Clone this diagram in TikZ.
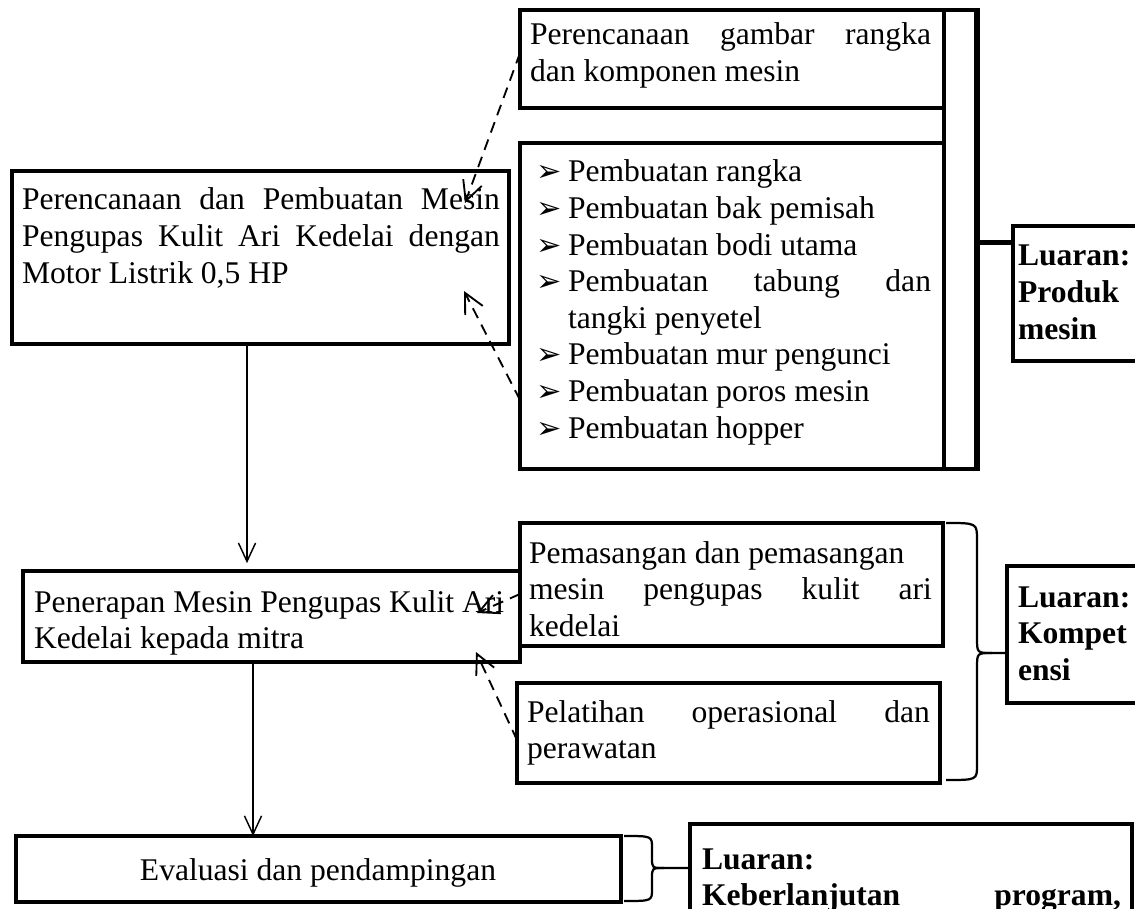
\documentclass[tikz,border=0pt]{standalone}
\usepackage{fontspec}
\setmainfont{Liberation Serif}
\newfontfamily\bulfont{DejaVu Sans}
\usetikzlibrary{arrows.meta,fit,calc}
\hbadness=10000
\newcommand\bul{{\bulfont\fontsize{11.5}{11.5}\selectfont ➢}}
\newcommand\itm[1]{\par\hangindent=12.16pt\hangafter=1\noindent\makebox[12.16pt][l]{\bul}#1}
\begin{document}
\begin{tikzpicture}[x=0.38pt,y=-0.38pt,
  box/.style={draw,line width=1.25pt,inner sep=0pt,outer sep=0pt},
  txt/.style={anchor=base west,inner sep=0pt,outer sep=0pt},
  conn/.style={line width=0.55pt,-{Straight Barb[length=7pt,width=6.5pt]}},
  dconn/.style={line width=0.7pt,dash pattern=on 4.2pt off 2.8pt,-{Straight Barb[length=7.5pt,width=7.5pt]}},
  brc/.style={line width=0.85pt},
  every node/.style={font=\fontsize{12}{13.9}\selectfont}]
\useasboundingbox (0,0) rectangle (1135,909);
\clip (0,0) rectangle (1135,909);
% boxes
\node[box,fit={(12,171)(509,344)}] (b1) {};
\node[box,fit={(23,571)(520,662)}] (b2) {};
\node[box,fit={(16,836)(621,902)}] (b3) {};
\node[box,fit={(520,10)(944,108)}] (tb) {};
\node[box,fit={(520,143)(944,469)}] (lb) {};
\node[box,fit={(520,523)(943,646)}] (b4) {};
\node[box,fit={(517,683)(940,783)}] (b5) {};
\node[box,fit={(1013,226)(1160,361)}] (L1) {};
\node[box,fit={(1007,566)(1160,703)}] (L2) {};
\node[box,fit={(690,824)(1132,940)}] (L3) {};
% frame column
\coordinate (fr) at (977,0);
\coordinate (hy) at (0,243);
\draw[line width=1.25pt] (tb.north east) -- (lb.south east);
\draw[line width=1.25pt] (tb.north east) -- (tb.north east -| fr);
\draw[line width=1.25pt] (lb.south east) -- (lb.south east -| fr);
\draw[line width=2.1pt] ([yshift=0.6pt]tb.north east -| fr) -- ([yshift=-0.6pt]lb.south east -| fr);
\draw[line width=1.9pt] (hy -| fr) -- (hy -| L1.west);
% texts
\node[txt] (t1) at (22,210) {\parbox[t]{181.6pt}{Perencanaan dan Pembuatan Mesin\linebreak Pengupas Kulit Ari Kedelai dengan\linebreak Motor Listrik 0,5 HP}};
\node[txt] (t2) at (34,612) {\parbox[t]{180.9pt}{Penerapan Mesin Pengupas Kulit Ari\newline Kedelai kepada mitra}};
\node[anchor=base,inner sep=0pt] (t3) at (318,880) {Evaluasi dan pendampingan};
\node[txt] (tt) at (530,45) {\parbox[t]{152.4pt}{Perencanaan gambar rangka\linebreak dan komponen mesin}};
\node[txt] (tl) at (536,182) {\parbox[t]{150.1pt}{\itm{Pembuatan rangka}\itm{Pembuatan bak pemisah}\itm{Pembuatan bodi utama}\itm{Pembuatan tabung dan\linebreak tangki penyetel}\itm{Pembuatan mur pengunci}\itm{Pembuatan poros mesin}\itm{Pembuatan hopper}}};
\node[txt] (t4) at (529,563) {\parbox[t]{153.1pt}{Pemasangan dan pemasangan\newline mesin pengupas kulit ari\linebreak kedelai}};
\node[txt] (t5) at (527,722) {\parbox[t]{153.1pt}{Pelatihan operasional dan\linebreak perawatan}};
\node[txt] (tL1) at (1018,266) {\parbox[t]{60pt}{\bfseries Luaran:\newline Produk\newline mesin}};
\node[txt] (tL2) at (1018,607) {\parbox[t]{60pt}{\bfseries Luaran:\newline Kompet\newline ensi}};
\node[txt] (tL3) at (702,869) {\parbox[t]{159.2pt}{\bfseries Luaran:\newline Keberlanjutan\hskip 0pt plus 1fill program,}};
% solid arrows
\coordinate (a1) at (247,0);
\coordinate (a2) at (253,0);
\draw[conn,shorten >=3pt] (b1.south -| a1) -- (b2.north -| a1);
\draw[conn] (b2.south -| a2) -- (b3.north -| a2);
% dashed arrows
\coordinate (sA) at (0,53);   \coordinate (dA) at (465,203);
\coordinate (sB) at (0,400);  \coordinate (dB) at (464,291);
\coordinate (sC) at (0,594);  \coordinate (dC) at (477,613);
\coordinate (sD) at (0,740);  \coordinate (dD) at (476,652);
\draw[dconn] (sA -| tb.west) -- (dA);
\draw[dconn] (sB -| lb.west) -- (dB);
\draw[dconn] (sC -| b4.west) -- (dC);
\draw[dconn] (sD -| b5.west) -- (dD);
% braces
\draw[brc] (946,523) .. controls (977,523) .. (977,540) -- (977,638) .. controls (977,653) .. (992,653) -- (L2.west |- 0,653);
\draw[brc] (992,653) .. controls (977,653) .. (977,668) -- (977,765) .. controls (977,780) .. (946,780);
\draw[brc] (624,836) .. controls (652,836) .. (652,848) -- (652,858) .. controls (652,868) .. (664,868) -- (L3.west |- 0,868);
\draw[brc] (664,868) .. controls (652,868) .. (652,878) -- (652,889) .. controls (652,901) .. (624,901);
\end{tikzpicture}
\end{document}
